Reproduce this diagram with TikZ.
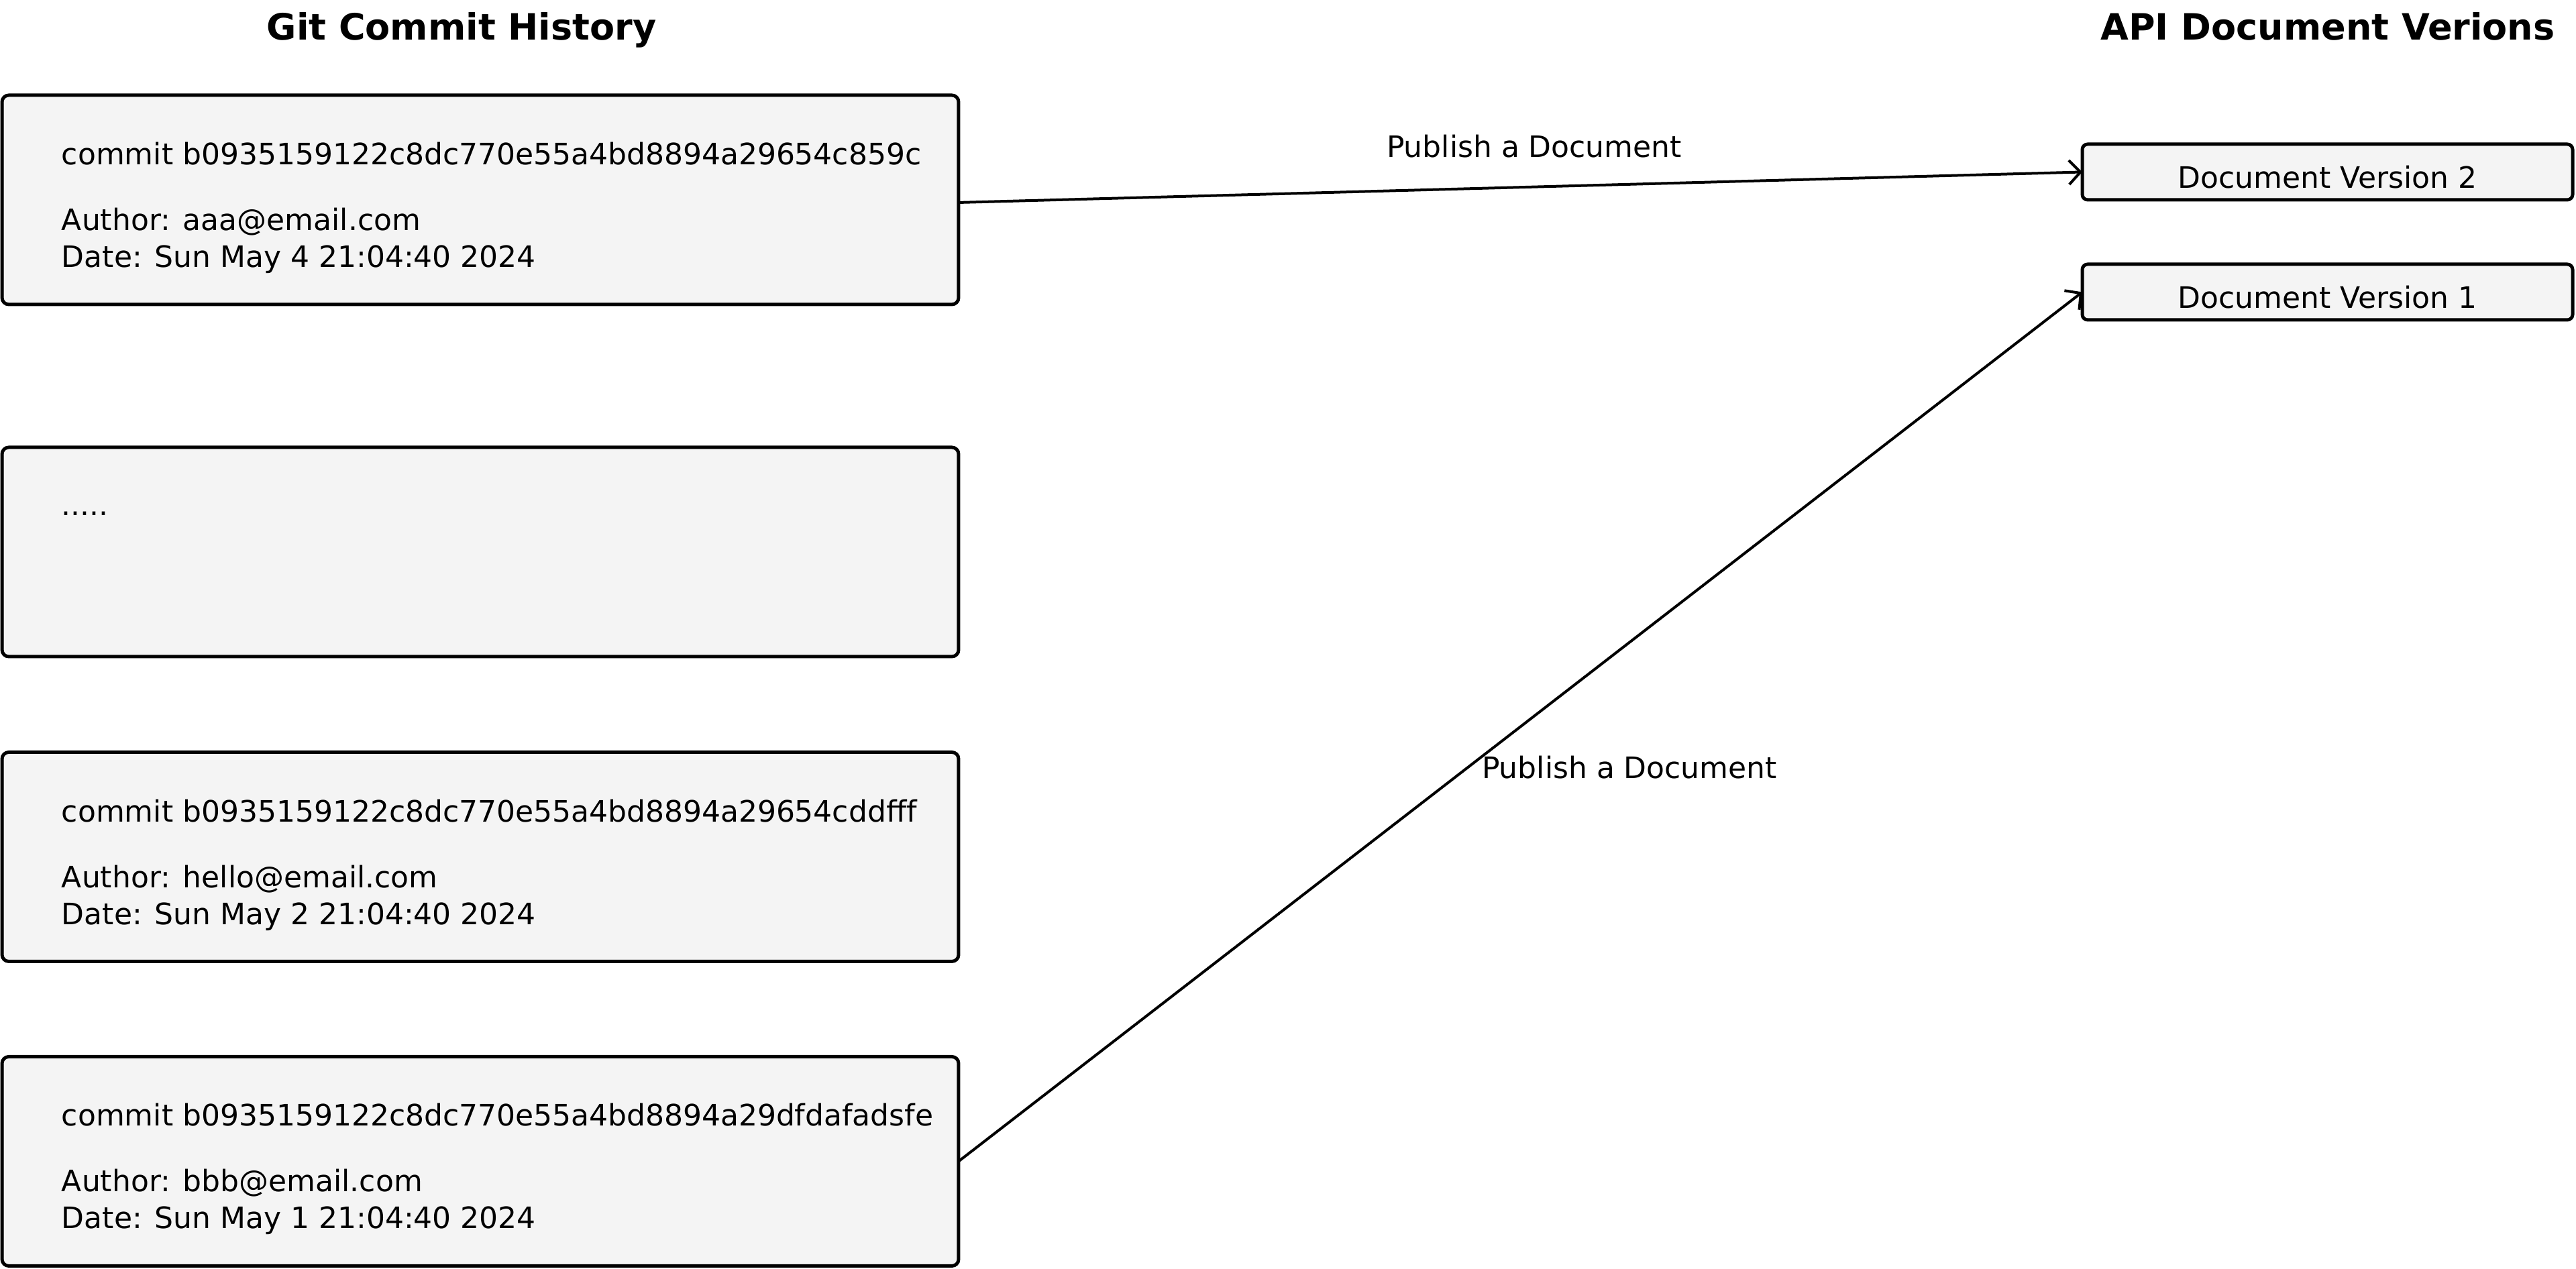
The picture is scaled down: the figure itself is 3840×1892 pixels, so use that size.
\documentclass[tikz,border=0pt]{standalone}
\usepackage{fontspec}
\setmainfont{DejaVu Sans}
\usetikzlibrary{arrows.meta}
\definecolor{boxfill}{HTML}{F4F4F4}
\begin{document}
\begin{tikzpicture}[x=0.1pt,y=-0.1pt,
  commitbox/.style={draw=black, line width=0.5pt, fill=boxfill, rounded corners=1pt,
    minimum width=142.6pt, minimum height=31.2pt, inner sep=0pt, outer sep=0pt},
  docbox/.style={draw=black, line width=0.5pt, fill=boxfill, rounded corners=0.8pt,
    minimum width=73.1pt, minimum height=8.3pt, inner sep=0pt, outer sep=0pt,
    font=\fontsize{4.4pt}{5pt}\selectfont, text height=4.9pt, text depth=0pt},
  txt/.style={anchor=base west, inner sep=0pt, font=\fontsize{4.4pt}{5pt}\selectfont},
  lbl/.style={anchor=base, inner sep=0pt, font=\fontsize{4.4pt}{5pt}\selectfont},
  ttl/.style={anchor=base, inner sep=0pt, font=\fontsize{5.4pt}{6pt}\selectfont\bfseries},
  conn/.style={draw=black, line width=0.4pt, -{Straight Barb[length=1.7pt,width=3.6pt]}}
]
\useasboundingbox (0,0) rectangle (3840,1892);

% titles
\node[ttl] (t1) at (688,60) {Git Commit History};
\node[ttl] (t2) at (3470,60) {API Document Verions};

% commit boxes
\node[commitbox] (ca) at (716,298) {};
\node[commitbox] (cb) at (716,823) {};
\node[commitbox] (cc) at (716,1277.5) {};
\node[commitbox] (cd) at (716,1731.5) {};

\node[txt] (ca1) at (90,246) {commit b0935159122c8dc770e55a4bd8894a29654c859c};
\node[txt] (ca2) at (90,344) {Author: aaa@email.com};
\node[txt] (ca3) at (90,399) {Date: Sun May 4 21:04:40 2024};

\node[txt] (cb1) at (90,769) {.....};

\node[txt] (cc1) at (90,1226) {commit b0935159122c8dc770e55a4bd8894a29654cddfff};
\node[txt] (cc2) at (90,1324) {Author: hello@email.com};
\node[txt] (cc3) at (90,1379) {Date: Sun May 2 21:04:40 2024};

\node[txt] (cd1) at (90,1679) {commit b0935159122c8dc770e55a4bd8894a29dfdafadsfe};
\node[txt] (cd2) at (90,1777) {Author: bbb@email.com};
\node[txt] (cd3) at (90,1832) {Date: Sun May 1 21:04:40 2024};

% document versions
\node[docbox] (dv2) at (3469.5,256.5) {Document Version 2};
\node[docbox] (dv1) at (3469.5,435.5) {Document Version 1};

% connectors
\draw[conn] ([yshift=-0.4pt]ca.east) -- (dv2.west);
\draw[conn] (cd.east) -- (dv1.west);

\node[lbl] (l1) at (2287,235) {Publish a Document};
\node[lbl] (l2) at (2429,1161) {Publish a Document};
\end{tikzpicture}
\end{document}
